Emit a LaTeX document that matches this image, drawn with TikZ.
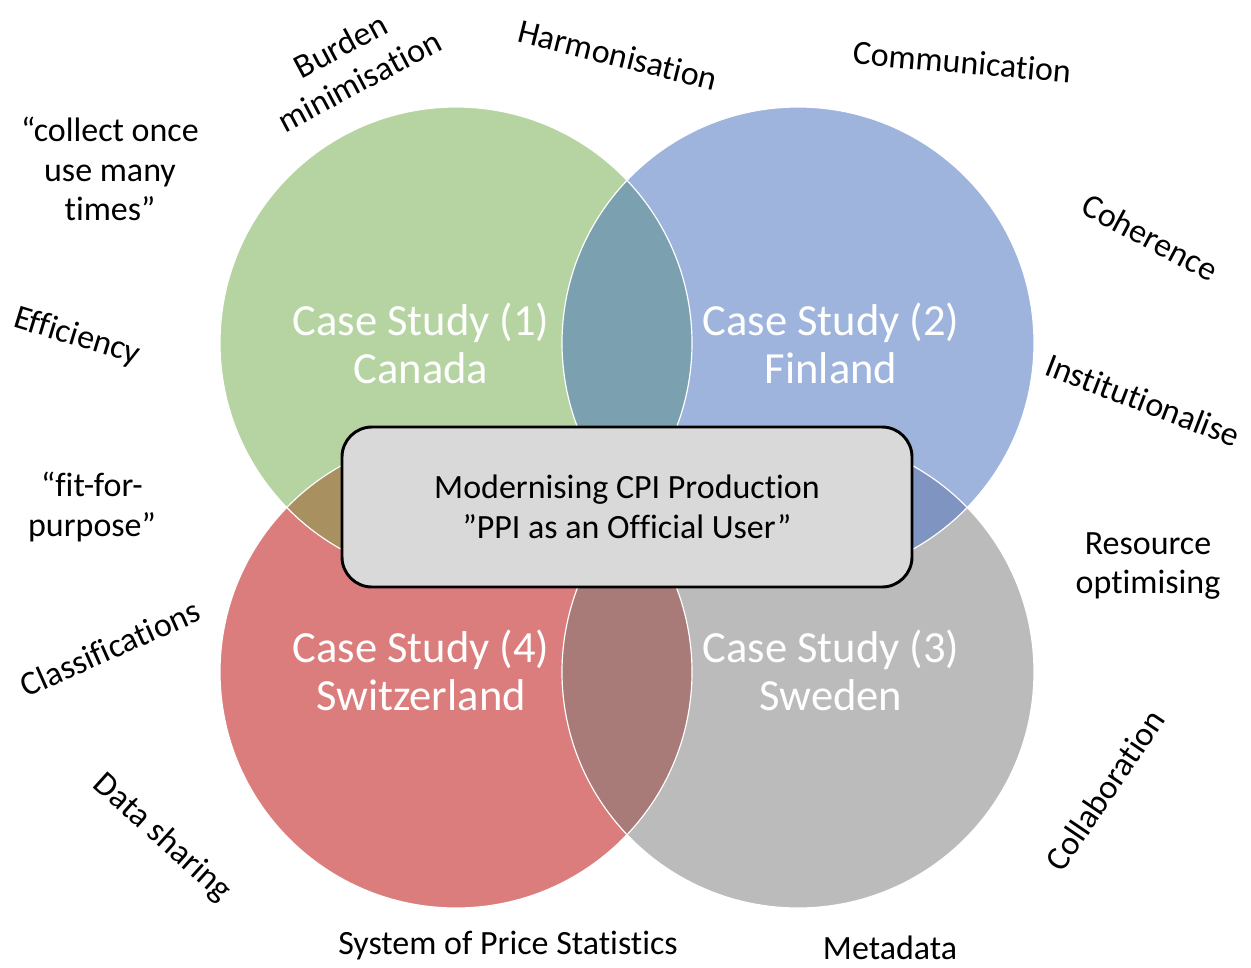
\documentclass[tikz,border=0pt]{standalone}
\usepackage{fontspec}
\setmainfont{Carlito}[Ligatures={TeX,NoCommon}]
\usetikzlibrary{positioning}

\definecolor{cgreen}{RGB}{181,212,161}
\definecolor{cblue}{RGB}{158,180,221}
\definecolor{cred}{RGB}{220,125,125}
\definecolor{cgrey}{RGB}{187,187,187}
\definecolor{cgb}{RGB}{123,161,176}
\definecolor{cgr}{RGB}{168,144,96}
\definecolor{cbs}{RGB}{127,148,192}
\definecolor{crs}{RGB}{168,122,120}
\definecolor{cbox}{RGB}{217,217,217}

\tikzset{
  case/.style={text=white, align=center, font=\fontsize{38}{41}\selectfont},
  topic/.style={align=center, font=\fontsize{29}{34}\selectfont},
}

\begin{document}
\begin{tikzpicture}[x=0.03cm,y=-0.03cm]
\useasboundingbox (0,0) rectangle (1251,967);

\coordinate (1) at (456,343);
\coordinate (2) at (798,343);
\coordinate (3) at (798,672);
\coordinate (4) at (456,672);

\fill [cgreen] (1) circle (236);
\fill [cblue]  (2) circle (236);
\fill [cgrey]  (3) circle (236);
\fill [cred]   (4) circle (236);

\begin{scope}
  \clip (1) circle (236);
  \fill [cgb] (2) circle (236);
  \fill [cgr] (4) circle (236);
\end{scope}
\begin{scope}
  \clip (3) circle (236);
  \fill [cbs] (2) circle (236);
  \fill [crs] (4) circle (236);
\end{scope}

\foreach \i in {1,2,3,4}
    \draw [white, line width=1pt] (\i) circle (236);

\node [case] (c1) at (421,343) {Case Study (1)\\Canada};
\node [case] (c2) at (831,343) {Case Study (2)\\Finland};
\node [case] (c3) at (831,670) {Case Study (3)\\Sweden};
\node [case] (c4) at (421,670) {Case Study (4)\\Switzerland};

\node [draw=black, line width=2.5pt, fill=cbox, rounded corners=30*0.03cm,
       minimum width=570*0.03cm, minimum height=160*0.03cm, topic]
      (core) at (627,507) {Modernising CPI Production\\\textquotedblright PPI as an Official User\textquotedblright};

\node [topic, rotate=28]  (burden)  at (350,63)   {Burden\\minimisation};
\node [topic, rotate=-14] (harmon)  at (618,55)   {Harmonisation};
\node [topic, rotate=-5]  (comm)    at (962,62)   {Communication};
\node [topic, rotate=-28] (coher)   at (1150,237) {Coherence};
\node [topic, rotate=-21] (instit)  at (1143,400) {Institutionalise};
\node [topic]             (resour)  at (1148,566) {Resource\\optimising};
\node [topic, rotate=56]  (collab)  at (1105,790) {Collaboration};
\node [topic]             (meta)    at (890,948)  {Metadata};
\node [topic]             (system)  at (508,946)  {System of Price Statistics};
\node [topic, rotate=-42] (datash)  at (162,838)  {Data sharing};
\node [topic, rotate=24]  (classif) at (110,648)  {Classifications};
\node [topic]             (fit)     at (92,507)   {“fit-for-\\purpose”};
\node [topic, rotate=-17] (effic)   at (77,337)   {Efficiency};
\node [topic]             (collect) at (110,169)  {“collect once\\use many\\times”};

\end{tikzpicture}
\end{document}
